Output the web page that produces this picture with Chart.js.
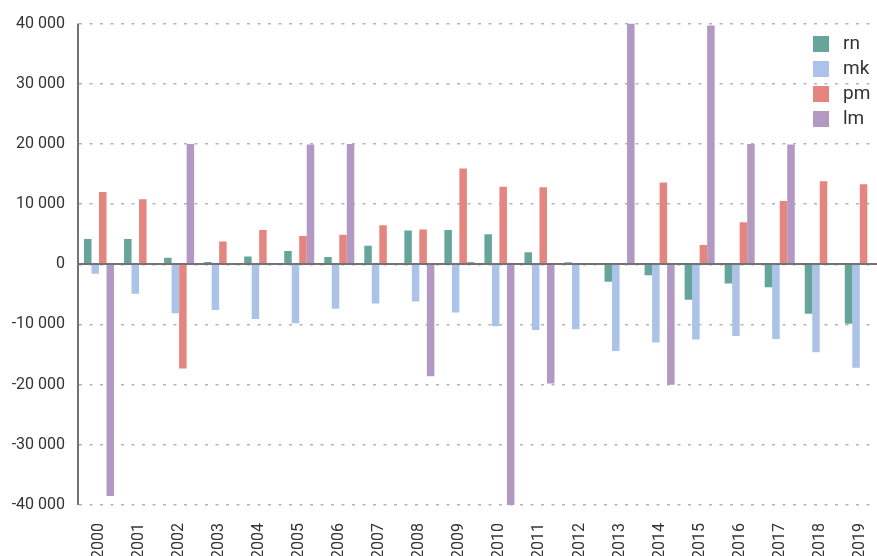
<!DOCTYPE html>
<html>
<head>
<meta charset="utf-8">
<script src="https://cdn.jsdelivr.net/npm/chart.js@4/dist/chart.umd.min.js"></script>
<style>
  html, body { margin: 0; padding: 0; background: #fff; overflow: hidden; }
  #wrap { width: 877px; height: 556px; overflow: hidden; }
  #wrap canvas { display: block; }
</style>
</head>
<body>
<div id="wrap"><canvas id="c" width="889" height="556"></canvas></div>
<script>
const years = ['2000', '2001', '2002', '2003', '2004', '2005', '2006', '2007', '2008', '2009',
               '2010', '2011', '2012', '2013', '2014', '2015', '2016', '2017', '2018', '2019'];

const rn = [4200, 4200, 1100, 400, 1300, 2200, 1200, 3100, 5600, 5700,
            5000, 2000, 350, -2900, -1800, -5900, -3200, -3800, -8200, -9900];
const mk = [-1550, -4900, -8150, -7600, -9100, -9800, -7400, -6500, -6200, -8000,
            -10300, -10900, -10800, -14400, -13000, -12500, -11900, -12400, -14600, -17200];
const pm = [12000, 10800, -17300, 3800, 5700, 4700, 4900, 6500, 5800, 15900,
            12900, 12800, 0, 0, 13600, 3200, 7000, 10500, 13800, 13300];
const lm = [-38500, 0, 20000, 0, 0, 19900, 20000, 0, -18600, 400,
            -40000, -19800, 0, 40000, -20000, 39700, 20000, 19900, 0, 0];

const yTicks = [40000, 30000, 20000, 10000, 0, -10000, -20000, -30000, -40000];

const seriesNames = ['rn', 'mk', 'pm', 'lm'];
const seriesColors = ['#67a59c', '#abc3e8', '#e5857f', '#b299c4'];

const fmt = v => {
  const s = Math.abs(v).toString().replace(/\B(?=(\d{3})+(?!\d))/g, ' ');
  return (v < 0 ? '-' : '') + s;
};

// solid y axis line and zero line drawn over the dotted grid
const axisLines = {
  id: 'axisLines',
  afterDatasetsDraw(chart) {
    const { ctx, chartArea, scales } = chart;
    const y = Math.round(scales.y.getPixelForValue(0));
    const x = Math.round(chartArea.left) - 1;
    ctx.save();
    ctx.strokeStyle = '#737373';
    ctx.lineWidth = 2;
    ctx.beginPath();
    ctx.moveTo(x, chartArea.top);
    ctx.lineTo(x, chartArea.bottom);
    ctx.moveTo(x, y);
    ctx.lineTo(chartArea.right, y);
    ctx.stroke();
    ctx.restore();
  }
};

// legend boxes inside the plot, top right
const boxLegend = {
  id: 'boxLegend',
  afterDraw(chart) {
    const ctx = chart.ctx;
    ctx.save();
    ctx.font = '19px Roboto';
    ctx.textBaseline = 'middle';
    chart.data.datasets.forEach((ds, i) => {
      const top = 36 + i * 25;
      ctx.fillStyle = ds.backgroundColor;
      ctx.fillRect(813, top, 16, 16);
      ctx.fillStyle = '#333';
      ctx.fillText(ds.label, 843, top + 8);
    });
    ctx.restore();
  }
};

const datasets = [rn, mk, pm, lm].map((data, i) => ({
  label: seriesNames[i],
  data: data,
  backgroundColor: seriesColors[i],
  borderWidth: 0,
  barPercentage: 1,
  categoryPercentage: 0.75
}));

new Chart(document.getElementById('c'), {
  type: 'bar',
  data: { labels: years, datasets },
  plugins: [axisLines, boxLegend],
  options: {
    responsive: false,
    animation: false,
    layout: { padding: { top: 22, right: 0, left: 0, bottom: 0 } },
    plugins: {
      legend: { display: false },
      tooltip: { enabled: false }
    },
    scales: {
      x: {
        grid: { display: false },
        border: { display: false },
        ticks: {
          minRotation: 90,
          maxRotation: 90,
          padding: 10,
          color: '#333',
          font: { family: 'Roboto', size: 16 }
        },
        afterFit: s => { s.height = 51; }
      },
      y: {
        min: -40000,
        max: 40000,
        afterBuildTicks: s => { s.ticks = yTicks.map(v => ({ value: v })); },
        grid: { color: '#b3b3b3', lineWidth: 1.5, drawTicks: false },
        border: { display: false, dash: [3, 7.5] },
        ticks: {
          padding: 14,
          color: '#333',
          font: { family: 'Roboto', size: 16 },
          callback: v => fmt(v)
        },
        afterFit: s => { s.width = 79; }
      }
    }
  }
});
</script>
</body>
</html>
